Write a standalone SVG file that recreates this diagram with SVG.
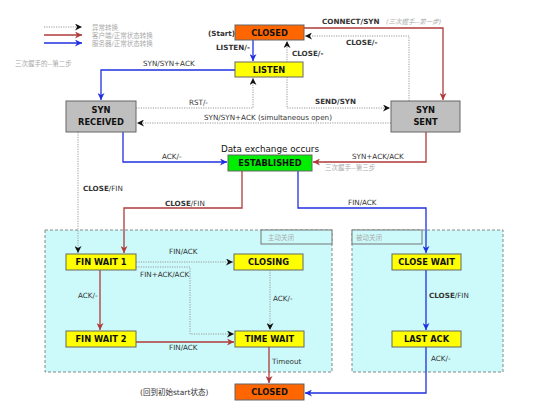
<svg xmlns="http://www.w3.org/2000/svg" width="550" height="415" viewBox="0 0 550 415">
<style>
.node rect{stroke:#666;stroke-width:1}
.closed{fill:#FF6600}
.yellow{fill:#FFFF00}
.gray{fill:#BFBFBF}
.green{fill:#00EE00}
.nt{font-family:"DejaVu Sans","Liberation Sans",sans-serif;font-size:8.3px;font-weight:bold;fill:#111;text-anchor:middle}
.lb{font-family:"DejaVu Sans","Liberation Sans",sans-serif;font-size:7.2px;fill:#333}
.b{font-weight:bold}
.cn{font-family:"DejaVu Sans","Noto Sans CJK SC",sans-serif;font-size:6.5px;fill:#aaa}
.red{fill:none;stroke:#B03A3A;stroke-width:1.3}
.blue{fill:none;stroke:#2030E0;stroke-width:1.3}
.dot{fill:none;stroke:#999;stroke-width:1;stroke-dasharray:1.2 1.2}
.grp{fill:#CCFAFA;stroke:#888;stroke-width:1;stroke-dasharray:3 2}
.glab{fill:#CCFAFA;stroke:#777;stroke-width:1}
</style>
<defs>
<marker id="aR" viewBox="0 0 10 10" refX="10" refY="5" markerWidth="9" markerHeight="7" markerUnits="userSpaceOnUse" orient="auto"><path d="M0,0 L10,5 L0,10 L3,5 z" fill="#B03A3A"/></marker>
<marker id="aB" viewBox="0 0 10 10" refX="10" refY="5" markerWidth="9" markerHeight="7" markerUnits="userSpaceOnUse" orient="auto"><path d="M0,0 L10,5 L0,10 L3,5 z" fill="#2030E0"/></marker>
<marker id="aK" viewBox="0 0 10 10" refX="10" refY="5" markerWidth="9" markerHeight="7" markerUnits="userSpaceOnUse" orient="auto"><path d="M0,0 L10,5 L0,10 L3,5 z" fill="#111"/></marker>
</defs>
<rect width="550" height="415" fill="#fff"/>

<g id="legend">
<path class="dot" d="M44,27 H82" marker-end="url(#aK)"/>
<path class="red" d="M44,35 H82" marker-end="url(#aR)"/>
<path class="blue" d="M44,43 H82" marker-end="url(#aB)"/>
<text class="cn" x="92" y="30">异常转换</text>
<text class="cn" x="92" y="38">客户端/正常状态转换</text>
<text class="cn" x="92" y="46">服务器/正常状态转换</text>
<text class="cn" x="15" y="66">三次握手的--第二步</text>
</g>

<g id="groups">
<rect class="grp" x="45" y="230" width="287" height="142"/>
<rect class="glab" x="261" y="230" width="71" height="14"/>
<text class="cn" x="268" y="240">主动关闭</text>
<rect class="grp" x="352" y="230" width="151" height="142"/>
<rect class="glab" x="352" y="230" width="70" height="14"/>
<text class="cn" x="356" y="240">被动关闭</text>
</g>

<g id="connectors">
<path class="blue" d="M253,40 V61" marker-end="url(#aB)"/>
<text class="lb b" x="216" y="50">LISTEN/-</text>
<path class="dot" d="M287,77 V41" marker-end="url(#aK)"/>
<text class="lb b" x="292" y="56">CLOSE/-</text>
<path class="red" d="M304,28 H443 V100" marker-end="url(#aR)"/>
<text class="lb b" x="322" y="24">CONNECT/SYN</text>
<text class="cn" x="386" y="24" font-style="italic">(三次握手--第一步)</text>
<path class="dot" d="M409,101 V36 H305" marker-end="url(#aK)"/>
<text class="lb b" x="346" y="45">CLOSE/-</text>
<path class="blue" d="M235,70 H101 V100" marker-end="url(#aB)"/>
<text class="lb" x="143" y="66">SYN/SYN+ACK</text>
<path class="dot" d="M136,108 H253 V78" marker-end="url(#aK)"/>
<text class="lb" x="189" y="105">RST/-</text>
<path class="dot" d="M287,77 V108 H390" marker-end="url(#aK)"/>
<text class="lb b" x="315" y="104">SEND/SYN</text>
<path class="dot" d="M391,123 H137" marker-end="url(#aK)"/>
<text class="lb" x="204" y="120">SYN/SYN+ACK  (simultaneous open)</text>
<path class="blue" d="M123,132 V162 H227" marker-end="url(#aB)"/>
<text class="lb" x="162" y="159">ACK/-</text>
<path class="red" d="M426,132 V162 H313" marker-end="url(#aR)"/>
<text class="lb" x="352" y="159">SYN+ACK/ACK</text>
<text class="cn" x="325" y="170">三次握手--第三步</text>
<text x="270" y="152" style="font-family:'DejaVu Sans','Liberation Sans',sans-serif;font-size:8.8px;fill:#111;text-anchor:middle">Data exchange occurs</text>
<path class="dot" d="M78,132 V253" marker-end="url(#aK)"/>
<text class="lb" x="83" y="191"><tspan class="b">CLOSE</tspan>/FIN</text>
<path class="red" d="M242,171 V208 H124 V253" marker-end="url(#aR)"/>
<text class="lb" x="165" y="206"><tspan class="b">CLOSE</tspan>/FIN</text>
<path class="blue" d="M298,171 V208 H426 V253" marker-end="url(#aB)"/>
<text class="lb" x="348" y="205">FIN/ACK</text>
<path class="dot" d="M136,262 H233" marker-end="url(#aK)"/>
<text class="lb" x="169" y="254">FIN/ACK</text>
<path class="dot" d="M136,267 H190 V334 H234" marker-end="url(#aK)"/>
<text class="lb" x="140" y="277">FIN+ACK/ACK</text>
<path class="dot" d="M270,270 V330" marker-end="url(#aK)"/>
<text class="lb" x="273" y="301">ACK/-</text>
<path class="red" d="M100,270 V330" marker-end="url(#aR)"/>
<text class="lb" x="78" y="298">ACK/-</text>
<path class="red" d="M136,342 H234" marker-end="url(#aR)"/>
<text class="lb" x="169" y="350">FIN/ACK</text>
<path class="red" d="M269,347 V383" marker-end="url(#aR)"/>
<text class="lb" x="272" y="364">Timeout</text>
<path class="blue" d="M426,270 V330" marker-end="url(#aB)"/>
<text class="lb" x="429" y="298"><tspan class="b">CLOSE</tspan>/FIN</text>
<path class="blue" d="M426,347 V393 H305" marker-end="url(#aB)"/>
<text class="lb" x="431" y="361">ACK/-</text>
<text x="140" y="395" style="font-family:'DejaVu Sans','Noto Sans CJK SC',sans-serif;font-size:7.5px;fill:#333">(回到初始start状态)</text>
<text class="lb b" x="208" y="36">(Start)</text>
</g>

<g id="closed-top" class="node"><rect class="closed" x="235" y="25" width="69" height="15"/><text class="nt" x="269.5" y="35.5">CLOSED</text></g>
<g id="listen" class="node"><rect class="yellow" x="235" y="62" width="68" height="15"/><text class="nt" x="269" y="72.5">LISTEN</text></g>
<g id="syn-received" class="node"><rect class="gray" x="66" y="101" width="70" height="31"/><text class="nt" x="101" y="113">SYN</text><text class="nt" x="101" y="125">RECEIVED</text></g>
<g id="syn-sent" class="node"><rect class="gray" x="391" y="101" width="69" height="31"/><text class="nt" x="425.5" y="113">SYN</text><text class="nt" x="425.5" y="125">SENT</text></g>
<g id="established" class="node"><rect class="green" x="228" y="155" width="84" height="16"/><text class="nt" x="270" y="166">ESTABLISHED</text></g>
<g id="fin-wait-1" class="node"><rect class="yellow" x="66" y="254" width="70" height="16"/><text class="nt" x="101" y="265">FIN WAIT 1</text></g>
<g id="closing" class="node"><rect class="yellow" x="234" y="254" width="69" height="16"/><text class="nt" x="268.5" y="265">CLOSING</text></g>
<g id="close-wait" class="node"><rect class="yellow" x="392" y="254" width="69" height="16"/><text class="nt" x="426.5" y="265">CLOSE WAIT</text></g>
<g id="fin-wait-2" class="node"><rect class="yellow" x="66" y="331" width="70" height="16"/><text class="nt" x="101" y="342">FIN WAIT 2</text></g>
<g id="time-wait" class="node"><rect class="yellow" x="235" y="331" width="69" height="16"/><text class="nt" x="269.5" y="342">TIME WAIT</text></g>
<g id="last-ack" class="node"><rect class="yellow" x="392" y="331" width="69" height="16"/><text class="nt" x="426.5" y="342">LAST ACK</text></g>
<g id="closed-bottom" class="node"><rect class="closed" x="235" y="384" width="69" height="16"/><text class="nt" x="269.5" y="395">CLOSED</text></g>
</svg>
